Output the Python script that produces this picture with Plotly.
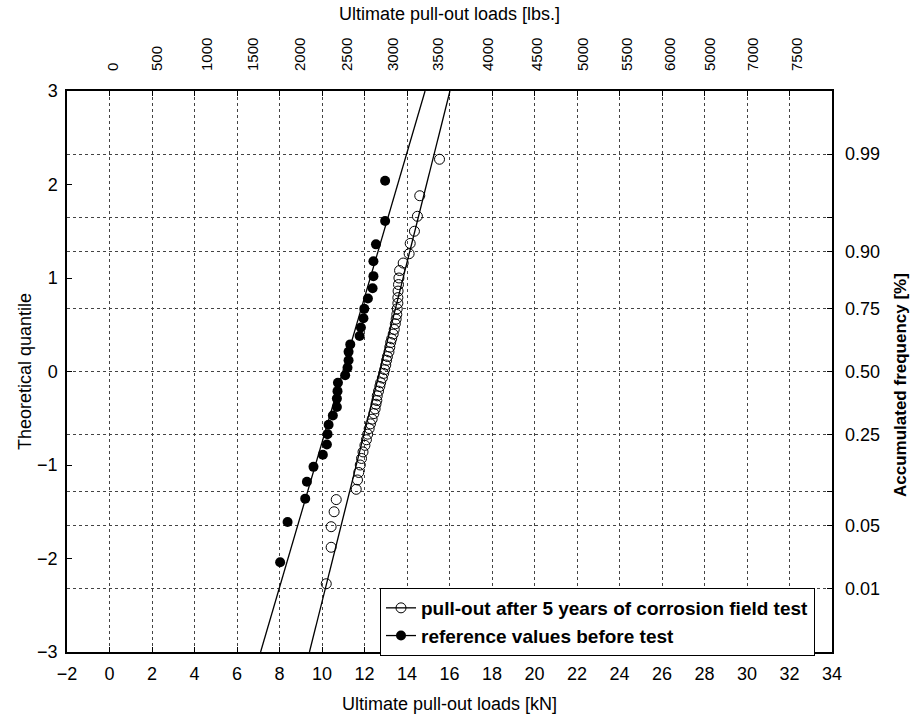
import plotly.graph_objects as go

# ---- data ----
# reference values before test (filled circles)
ref_kN = [8.03, 8.38, 9.21, 9.29, 9.60, 10.04, 10.23, 10.26, 10.31, 10.51,
          10.70, 10.70, 10.73, 10.75, 11.09, 11.20, 11.25, 11.25, 11.33, 11.77,
          11.83, 11.95, 11.99, 12.16, 12.38, 12.42, 12.42, 12.54, 12.97, 12.97]
ref_q = [-2.04, -1.61, -1.36, -1.18, -1.02, -0.89, -0.78, -0.67, -0.57, -0.47,
         -0.38, -0.29, -0.21, -0.12, -0.04, 0.04, 0.12, 0.21, 0.29, 0.38,
         0.47, 0.57, 0.67, 0.78, 0.89, 1.02, 1.18, 1.36, 1.61, 2.04]

# pull-out after 5 years of corrosion field test (open circles)
post_kN = [10.20, 10.43, 10.43, 10.57, 10.67, 11.61, 11.67, 11.73, 11.80, 11.86,
           11.93, 12.02, 12.09, 12.15, 12.22, 12.28, 12.36, 12.44, 12.50, 12.54,
           12.58, 12.60, 12.66, 12.72, 12.76, 12.84, 12.90, 12.95, 13.00, 13.04,
           13.08, 13.15, 13.19, 13.23, 13.28, 13.35, 13.40, 13.45, 13.49, 13.52,
           13.54, 13.57, 13.57, 13.58, 13.60, 13.62, 13.65, 13.82, 14.10, 14.15,
           14.35, 14.49, 14.60, 15.53]
post_q = [-2.27, -1.88, -1.66, -1.50, -1.37, -1.26, -1.16, -1.08, -1.00, -0.93,
          -0.86, -0.79, -0.73, -0.67, -0.61, -0.56, -0.51, -0.45, -0.40, -0.35,
          -0.31, -0.26, -0.21, -0.16, -0.12, -0.07, -0.02, 0.02, 0.07, 0.12,
          0.16, 0.21, 0.26, 0.31, 0.35, 0.40, 0.45, 0.51, 0.56, 0.61,
          0.67, 0.73, 0.79, 0.86, 0.93, 1.00, 1.08, 1.16, 1.26, 1.37,
          1.50, 1.66, 1.88, 2.27]

# fitted normal lines (end points at quantile -3 and 3)
ref_fit_kN = [7.11, 14.85]
post_fit_kN = [9.41, 16.02]
fit_q = [-3, 3]

# top axis (lbs) labels and their positions on the kN scale
lbs_pos = [0.17, 2.24, 4.60, 6.76, 8.97, 11.18, 13.35, 15.47, 17.82, 20.12,
           22.29, 24.36, 26.38, 28.26, 30.28, 32.36]
lbs_text = ["0", "500", "1000", "1500", "2000", "2500", "3000", "3500", "4000",
            "4500", "5000", "5500", "6000", "5000", "7000", "7500"]

# right axis (accumulated frequency)
freq_q = [-2.326, -1.645, -1.2816, -0.6745, 0.0, 0.6745, 1.2816, 1.645, 2.326]
freq_text = ["0.01", "0.05", "", "0.25", "0.50", "0.75", "0.90", "", "0.99"]

FONT = "Liberation Sans, Arial, sans-serif"

fig = go.Figure()

# fitted lines
fig.add_trace(go.Scatter(x=post_fit_kN, y=fit_q, mode="lines",
                         line=dict(color="black", width=1.3),
                         showlegend=False, hoverinfo="skip"))
fig.add_trace(go.Scatter(x=ref_fit_kN, y=fit_q, mode="lines",
                         line=dict(color="black", width=1.3),
                         showlegend=False, hoverinfo="skip"))

# data points
fig.add_trace(go.Scatter(x=post_kN, y=post_q, mode="markers",
                         marker=dict(symbol="circle-open", size=10, color="black",
                                     line=dict(width=1, color="black")),
                         showlegend=False))
fig.add_trace(go.Scatter(x=ref_kN, y=ref_q, mode="markers",
                         marker=dict(symbol="circle", size=10, color="black"),
                         showlegend=False))

# legend entries
fig.add_trace(go.Scatter(x=[None], y=[None], mode="lines+markers",
                         name="pull-out after 5 years of corrosion field test",
                         line=dict(color="black", width=1.3),
                         marker=dict(symbol="circle-open", size=10, color="black")))
fig.add_trace(go.Scatter(x=[None], y=[None], mode="lines+markers",
                         name="reference values before test",
                         line=dict(color="black", width=1.3),
                         marker=dict(symbol="circle", size=10, color="black")))

# dummy traces to activate secondary axes
fig.add_trace(go.Scatter(x=[None], y=[None], xaxis="x2", yaxis="y", showlegend=False))
fig.add_trace(go.Scatter(x=[None], y=[None], xaxis="x", yaxis="y2", showlegend=False))

grid = dict(showgrid=True, gridcolor="#444444", gridwidth=1, griddash="dot")

fig.update_layout(
    width=913, height=719,
    margin=dict(l=67, r=81, t=91, b=67, autoexpand=False),
    paper_bgcolor="white", plot_bgcolor="white",
    font=dict(family=FONT, size=18, color="black"),
    showlegend=True,
    legend=dict(x=(380 - 67) / 765, y=(652 - 588) / 561, xanchor="left", yanchor="top",
                bgcolor="white", bordercolor="black", borderwidth=1,
                font=dict(family=FONT, size=19, color="black", weight="bold"),
                tracegroupgap=0, itemwidth=30),
    xaxis=dict(range=[-2, 34], tick0=-2, dtick=2, ticks="inside", ticklen=5,
               tickcolor="black", showline=True, linecolor="black", linewidth=1.5,
               mirror="ticks", zeroline=False, automargin=False,
               ticklabelstandoff=5,
               title=dict(text="Ultimate pull-out loads [kN]", standoff=14,
                          font=dict(size=18)),
               tickfont=dict(size=18), **grid),
    xaxis2=dict(overlaying="x", side="top", range=[-2, 34],
                tickmode="array", tickvals=lbs_pos, ticktext=lbs_text,
                tickangle=-90, ticks="outside", ticklen=16,
                tickcolor="rgba(0,0,0,0)", showgrid=False, showline=False,
                zeroline=False, automargin=False,
                tickfont=dict(size=15),
                title=dict(text="Ultimate pull-out loads [lbs.]", standoff=12,
                           font=dict(size=18))),
    yaxis=dict(range=[-3, 3], dtick=1, ticks="inside", ticklen=5, tickcolor="black",
               showline=True, linecolor="black", linewidth=1.5, mirror=True,
               zeroline=False, showgrid=False, automargin=False,
               ticklabelstandoff=4,
               title=dict(text="Theoretical quantile", standoff=1,
                          font=dict(size=18)),
               tickfont=dict(size=18)),
    yaxis2=dict(overlaying="y", side="right", range=[-3, 3],
                tickmode="array", tickvals=freq_q, ticktext=freq_text,
                ticks="inside", ticklen=5, tickcolor="black", showline=False,
                zeroline=False, ticklabelstandoff=12, automargin=False,
                tickfont=dict(size=18), **grid),
    annotations=[dict(text="<b>Accumulated frequency [%]</b>", textangle=-90,
                      xref="paper", yref="paper", x=1.0 + 68 / 765, y=(652 - 385) / 561,
                      xanchor="center", yanchor="middle", showarrow=False,
                      font=dict(family=FONT, size=17, color="black"))],
)

fig.write_html("out.html",
               config={"displayModeBar": False},
               post_script="document.body.style.margin='0px';"
                           "document.body.style.overflow='hidden';")
